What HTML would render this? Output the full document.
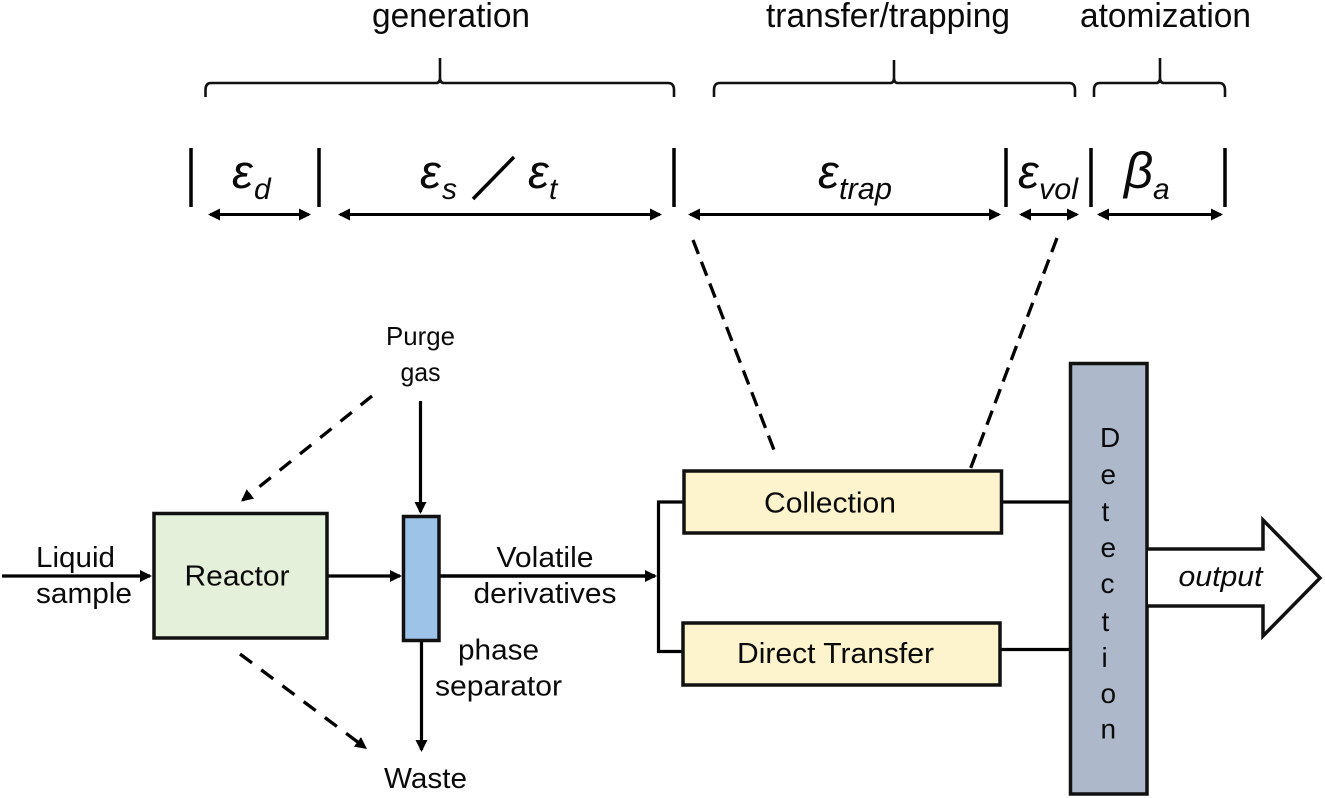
<!DOCTYPE html>
<html><head><meta charset="utf-8"><style>
html,body{margin:0;padding:0;background:#fff;width:1325px;height:798px;overflow:hidden}
svg{display:block}
text{font-family:"Liberation Sans",sans-serif;fill:#0a0a0a}
</style></head><body>
<svg width="1325" height="798" viewBox="0 0 1325 798" xmlns="http://www.w3.org/2000/svg">
<defs>
<marker id="a" markerWidth="12" markerHeight="12" refX="10" refY="6" orient="auto-start-reverse" markerUnits="userSpaceOnUse"><path d="M0 0L12 6L0 12z" fill="#000"/></marker>
</defs>

<g font-size="34">
<text x="372" y="27" textLength="158" lengthAdjust="spacingAndGlyphs">generation</text>
<text x="766" y="27" textLength="244" lengthAdjust="spacingAndGlyphs">transfer/trapping</text>
<text x="1080" y="27" textLength="171" lengthAdjust="spacingAndGlyphs">atomization</text>
</g>

<g fill="none" stroke="#111" stroke-width="2.6">
<path d="M205.5 97V90Q205.5 83 211 83H436Q440 83 440 78V58M440 78Q440 83 444 83H668Q674 83 674 90V97"/>
<path d="M714 97V90Q714 83 720 83H890Q894 83 894 78V60M894 78Q894 83 898 83H1069Q1075 83 1075 90V97"/>
<path d="M1094 97V90Q1094 83 1100 83H1156Q1160 83 1160 78V58M1160 78Q1160 83 1164 83H1219Q1225 83 1225 90V97"/>
</g>

<g stroke="#000" stroke-width="3.5">
<path d="M191 148V207M319 148V207M674 148V207M1006 148V207M1091 148V207M1225 148V207"/>
<line x1="473" y1="199" x2="514" y2="157"/>
</g>

<g stroke="#000" stroke-width="3">
<line x1="210" y1="214.5" x2="309" y2="214.5" marker-start="url(#a)" marker-end="url(#a)"/>
<line x1="340" y1="214.5" x2="660" y2="214.5" marker-start="url(#a)" marker-end="url(#a)"/>
<line x1="690" y1="214.5" x2="999" y2="214.5" marker-start="url(#a)" marker-end="url(#a)"/>
<line x1="1021" y1="214.5" x2="1077" y2="214.5" marker-start="url(#a)" marker-end="url(#a)"/>
<line x1="1099" y1="214.5" x2="1221" y2="214.5" marker-start="url(#a)" marker-end="url(#a)"/>
</g>

<g font-style="italic" font-size="47">
<text x="232" y="188">ε</text><text x="254" y="199" font-size="30">d</text>
<text x="420" y="188">ε</text><text x="442" y="199" font-size="30">s</text>
<text x="528" y="188">ε</text><text x="549" y="199" font-size="30">t</text>
<text x="818" y="188">ε</text><text x="839" y="199" font-size="31" textLength="53" lengthAdjust="spacingAndGlyphs">trap</text>
<text x="1018" y="188">ε</text><text x="1039" y="199" font-size="30" textLength="39" lengthAdjust="spacingAndGlyphs">vol</text>
<text x="1124" y="188" font-size="51">β</text><text x="1153" y="199" font-size="30">a</text>
</g>

<g stroke="#000" stroke-width="3.3" fill="none">
<line x1="693" y1="240" x2="774" y2="450" stroke-dasharray="15 8.3"/>
<line x1="1057" y1="238" x2="970.7" y2="468" stroke-dasharray="15 8.06"/>
<line x1="372" y1="396" x2="242.6" y2="500.2" stroke-dasharray="14.5 11.5" marker-end="url(#a)"/>
<line x1="240" y1="654" x2="365.4" y2="747.8" stroke-dasharray="15 11.5" marker-end="url(#a)"/>
</g>

<g stroke="#000" stroke-width="3.2" fill="none">
<line x1="2" y1="576" x2="150" y2="576" marker-end="url(#a)"/>
<line x1="327" y1="576" x2="400" y2="576" marker-end="url(#a)"/>
<line x1="439" y1="576" x2="655" y2="576" stroke-width="3.5" marker-end="url(#a)"/>
<line x1="420.5" y1="401" x2="420.5" y2="512" marker-end="url(#a)"/>
<line x1="421.5" y1="638" x2="421.5" y2="750" marker-end="url(#a)"/>
<path d="M684 502H658.5V651.5H684" stroke-width="3.2"/>
<line x1="1001" y1="502" x2="1071" y2="502"/>
<line x1="1000" y1="649.5" x2="1071" y2="649.5"/>
</g>

<rect x="154" y="513.5" width="173" height="124.5" fill="#e5f0da" stroke="#111" stroke-width="3.5"/>
<rect x="403.5" y="516.5" width="35.5" height="124" fill="#9dc3e8" stroke="#111" stroke-width="3.5"/>
<rect x="684" y="471" width="317.5" height="62" fill="#fdf3cd" stroke="#111" stroke-width="3.5"/>
<rect x="683" y="623" width="317" height="62" fill="#fdf3cd" stroke="#111" stroke-width="3.5"/>
<rect x="1070.5" y="363.5" width="76.5" height="430.5" fill="#adb9ca" stroke="#111" stroke-width="3.5"/>
<path d="M1148 549H1263V520L1320 578L1263 636V606H1148" fill="#fff" stroke="#111" stroke-width="3.5"/>

<g font-size="29">
<text x="184.5" y="585.5" textLength="105" lengthAdjust="spacingAndGlyphs">Reactor</text>
<text x="764" y="512.5" textLength="132" lengthAdjust="spacingAndGlyphs">Collection</text>
<text x="737" y="663" textLength="197" lengthAdjust="spacingAndGlyphs">Direct Transfer</text>
<text x="36" y="567" textLength="79" lengthAdjust="spacingAndGlyphs">Liquid</text>
<text x="36" y="603" textLength="96" lengthAdjust="spacingAndGlyphs">sample</text>
<text x="496.5" y="567" textLength="97" lengthAdjust="spacingAndGlyphs">Volatile</text>
<text x="473.5" y="603" textLength="143" lengthAdjust="spacingAndGlyphs">derivatives</text>
<text x="458" y="659.5" textLength="81" lengthAdjust="spacingAndGlyphs">phase</text>
<text x="435" y="695.5" textLength="127" lengthAdjust="spacingAndGlyphs">separator</text>
<text x="384" y="788" textLength="83" lengthAdjust="spacingAndGlyphs">Waste</text>
<text x="1178.5" y="586" font-style="italic" textLength="84" lengthAdjust="spacingAndGlyphs">output</text>
</g>

<g font-size="26">
<text x="386" y="345" textLength="69" lengthAdjust="spacingAndGlyphs">Purge</text>
<text x="400.5" y="381" textLength="40" lengthAdjust="spacingAndGlyphs">gas</text>
</g>

<g font-size="28">
<text x="1100" y="447">D</text>
<text x="1100.5" y="484">e</text>
<text x="1101.5" y="521">t</text>
<text x="1100.5" y="557">e</text>
<text x="1100.5" y="593">c</text>
<text x="1101.5" y="631">t</text>
<text x="1101.5" y="667">i</text>
<text x="1100.5" y="703">o</text>
<text x="1100.5" y="738.5">n</text>
</g>
</svg>
</body></html>
